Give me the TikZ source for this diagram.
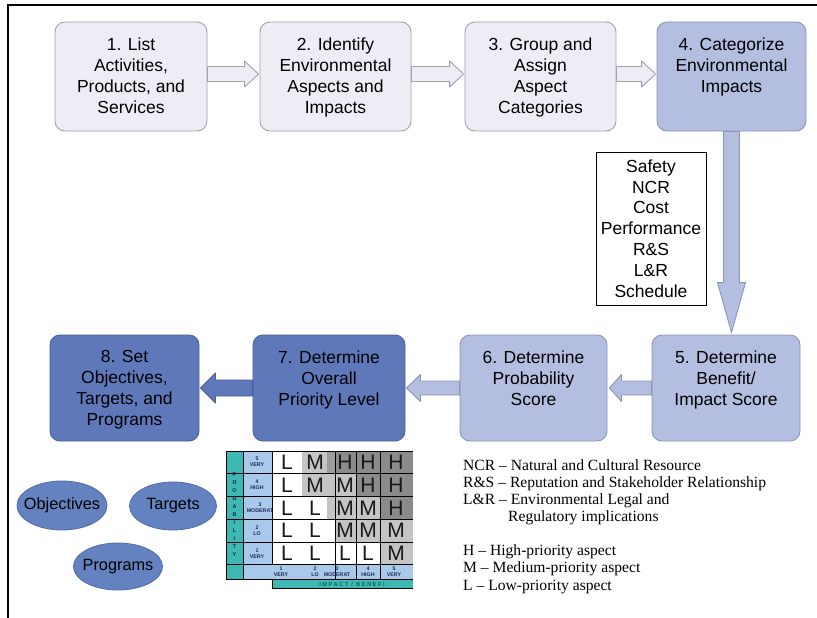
\documentclass[tikz,border=0pt]{standalone}
\usepackage{fontspec}
\setmainfont{Liberation Serif}
\setsansfont{Liberation Sans}
\newfontfamily\spacedsans[LetterSpace=25]{Liberation Sans}
\usetikzlibrary{shapes.geometric,calc}
\definecolor{lightfill}{HTML}{EEEDF5}
\definecolor{lightdraw}{HTML}{A2A2AA}
\definecolor{midfill}{HTML}{B3BEE1}
\definecolor{middraw}{HTML}{8E96B6}
\definecolor{darkfill}{HTML}{5E78BA}
\definecolor{darkdraw}{HTML}{4A5E99}
\definecolor{ellfill}{HTML}{6482BF}
\definecolor{elldraw}{HTML}{4F6CA8}
\definecolor{tealc}{HTML}{3DB8B2}
\definecolor{lblue}{HTML}{A9C9EA}
\definecolor{hgrey}{HTML}{8B8B8B}
\definecolor{mgrey}{HTML}{C4C4C4}
\definecolor{sgrey}{HTML}{9C9C9C}
\definecolor{navy}{HTML}{1F2A55}
\definecolor{darkteal}{HTML}{14605C}
\tikzset{
  basebox/.style={rounded corners=10pt, line width=0.9pt},
  lbox/.style={basebox, draw=lightdraw, fill=lightfill},
  mbox/.style={basebox, draw=middraw, fill=midfill},
  dbox/.style={basebox, draw=darkdraw, fill=darkfill},
  btext/.style={font=\sffamily\fontsize{17.5}{21}\selectfont, align=center, anchor=north, inner sep=0pt, text=black},
  larrow/.style={draw=lightdraw, fill=lightfill, line width=0.9pt, line join=round},
  marrow/.style={draw=middraw, fill=midfill, line width=0.9pt, line join=round},
  darrow/.style={draw=darkdraw, fill=darkfill, line width=0.9pt, line join=round},
  ell/.style={ellipse, draw=elldraw, fill=ellfill, line width=0.8pt, inner sep=0pt},
  elltext/.style={inner sep=0pt, font=\sffamily\fontsize{16.3}{18}\selectfont},
  legend/.style={anchor=base west, inner sep=0pt, font=\fontsize{15.6}{17}\selectfont},
  mline/.style={draw=black, line width=0.8pt},
  mletter/.style={inner sep=0pt, font=\sffamily\fontsize{21}{21}\selectfont, text=black!90},
  tinylab/.style={inner sep=0pt, align=center, font=\sffamily\bfseries\fontsize{5.3}{6.2}\selectfont, text=navy},
  frameline/.style={draw=black, line width=2pt}
}
\begin{document}
\begin{tikzpicture}[x=1pt,y=-1pt]
\useasboundingbox (0,0) rectangle (817,618);
\fill[white] (0,0) rectangle (817,618);
% frame
\coordinate (f0) at (817,5.5);
\coordinate (f1) at (7.5,5.5);
\coordinate (f2) at (7.5,618);
\draw[frameline] (f0) -- (f1) -- (f2);

% boxes
\node[lbox, minimum width=152pt, minimum height=109pt] (b1) at (131,76.5) {};
\node[lbox, minimum width=151pt, minimum height=109pt] (b2) at (335.5,76.5) {};
\node[lbox, minimum width=151pt, minimum height=109pt] (b3) at (540.5,76.5) {};
\node[mbox, minimum width=149pt, minimum height=109pt] (b4) at (731.5,76.5) {};
\node[mbox, minimum width=148pt, minimum height=106pt] (b5) at (726,388) {};
\node[mbox, minimum width=147pt, minimum height=106pt] (b6) at (533.5,388) {};
\node[dbox, minimum width=152pt, minimum height=106pt] (b7) at (329,388) {};
\node[dbox, minimum width=149pt, minimum height=106pt] (b8) at (124.5,388) {};

\node[btext] (t1) at ($(b1.north)+(0,16)$) {1. List\\Activities,\\Products, and\\Services};
\node[btext] (t2) at ($(b2.north)+(0,16)$) {2. Identify\\Environmental\\Aspects and\\Impacts};
\node[btext] (t3) at ($(b3.north)+(0,16)$) {3. Group and\\Assign\\Aspect\\Categories};
\node[btext] (t4) at ($(b4.north)+(0,16)$) {4. Categorize\\Environmental\\Impacts};
\node[btext] (t5) at ($(b5.north)+(0,16)$) {5. Determine\\Benefit/\\Impact Score};
\node[btext] (t6) at ($(b6.north)+(0,16)$) {6. Determine\\Probability\\Score};
\node[btext] (t7) at ($(b7.north)+(0,16)$) {7. Determine\\Overall\\Priority Level};
\node[btext] (t8) at ($(b8.north)+(0,16)$) {8. Set\\Objectives,\\Targets, and\\Programs};

% right-pointing arrows (top row)
\draw[larrow] let \p1=(b1.east), \p2=(b2.west) in
  (\x1,\y1+10pt) -- (\x2-15pt,\y1+10pt) -- (\x2-15pt,\y1+15.5pt) -- (\x2-1pt,\y1+2.5pt)
  -- (\x2-15pt,\y1-10.5pt) -- (\x2-15pt,\y1-5pt) -- (\x1,\y1-5pt) -- cycle;
\draw[larrow] let \p1=(b2.east), \p2=(b3.west) in
  (\x1,\y1+10pt) -- (\x2-15pt,\y1+10pt) -- (\x2-15pt,\y1+15.5pt) -- (\x2-1pt,\y1+2.5pt)
  -- (\x2-15pt,\y1-10.5pt) -- (\x2-15pt,\y1-5pt) -- (\x1,\y1-5pt) -- cycle;
\draw[larrow] let \p1=(b3.east), \p2=(b4.west) in
  (\x1,\y1+10pt) -- (\x2-15pt,\y1+10pt) -- (\x2-15pt,\y1+15.5pt) -- (\x2-1pt,\y1+2.5pt)
  -- (\x2-15pt,\y1-10.5pt) -- (\x2-15pt,\y1-5pt) -- (\x1,\y1-5pt) -- cycle;

% vertical arrow 4 -> 5
\draw[marrow] let \p1=(b4.south), \p2=(b5.north) in
  (\x1-8pt,\y1) -- (\x1-8pt,\y2+52pt) -- (\x1-14pt,\y2+52pt) -- (\x1,\y2+2pt)
  -- (\x1+14pt,\y2+52pt) -- (\x1+8pt,\y2+52pt) -- (\x1+8pt,\y1) -- cycle;

% left-pointing arrows (bottom row)
\draw[marrow] let \p1=(b5.west), \p2=(b6.east) in
  (\x1,\y1+7pt) -- (\x2+14pt,\y1+7pt) -- (\x2+14pt,\y1+13.5pt) -- (\x2+2pt,\y1)
  -- (\x2+14pt,\y1-13.5pt) -- (\x2+14pt,\y1-7pt) -- (\x1,\y1-7pt) -- cycle;
\draw[marrow] let \p1=(b6.west), \p2=(b7.east) in
  (\x1,\y1+7pt) -- (\x2+15pt,\y1+7pt) -- (\x2+15pt,\y1+13.5pt) -- (\x2+1pt,\y1)
  -- (\x2+15pt,\y1-13.5pt) -- (\x2+15pt,\y1-7pt) -- (\x1,\y1-7pt) -- cycle;
\draw[darrow] let \p1=(b7.west), \p2=(b8.east) in
  (\x1,\y1+8pt) -- (\x2+16pt,\y1+8pt) -- (\x2+16pt,\y1+15pt) -- (\x2+1pt,\y1)
  -- (\x2+16pt,\y1-15pt) -- (\x2+16pt,\y1-8pt) -- (\x1,\y1-8pt) -- cycle;

% categories box
\node[draw=black, line width=0.8pt, fill=white, minimum width=110pt, minimum height=153pt,
      align=center, inner sep=0pt, font=\sffamily\fontsize{17.5}{20.8}\selectfont] (cat) at (651,228.5)
  {Safety\\NCR\\Cost\\Performance\\R\&S\\L\&R\\Schedule};

% ellipses
\node[ell, minimum width=90pt, minimum height=49pt] (obj) at (62,505.5) {};
\node[ell, minimum width=87pt, minimum height=48pt] (tar) at (173,506) {};
\node[ell, minimum width=89pt, minimum height=47pt] (pro) at (118,566.5) {};
\node[elltext] (objt) at (obj.center) {Objectives};
\node[elltext] (tart) at (tar.center) {Targets};
\node[elltext] (prot) at (pro.center) {Programs};

% risk matrix
\fill[lblue] (243,451) rectangle (272,564.5);
\fill[lblue] (243,564.5) rectangle (413,579.5);
\fill[tealc] (226,451) rectangle (243,579.5);
\fill[tealc] (272,579.5) rectangle (413,588);
\fill[white] (272,451) rectangle (413,564.5);
\fill[mgrey] (302,451) rectangle (327,473.5);
\fill[sgrey] (327,451) rectangle (335,473.5);
\fill[hgrey] (335,451) rectangle (413,473.5);
\fill[mgrey] (302,473.5) rectangle (356,496.5);
\fill[hgrey] (356,473.5) rectangle (413,496.5);
\fill[mgrey] (327,496.5) rectangle (380,519);
\fill[hgrey] (380,496.5) rectangle (413,519);
\fill[mgrey] (335,519) rectangle (413,542);
\fill[mgrey] (380,542) rectangle (413,564.5);
\foreach \yy in {451,473.5,496.5,519,542,564.5,579.5} {\draw[mline] (226,\yy) -- (413,\yy);}
\foreach \xx in {226,243,335,356,380} {\draw[mline] (\xx,451) -- (\xx,579.5);}
\draw[mline] (272,451) -- (272,564.5);
\draw[mline] (272,579.5) -- (272,588) -- (413,588);

\foreach \ltr [count=\c] in {L,M,H,H,H} {\node[mletter] (ma\c) at ({\c==1?287:(\c==2?315:(\c==3?345:(\c==4?368:396)))},462) {\ltr};}
\foreach \ltr [count=\c] in {L,M,M,H,H} {\node[mletter] (mb\c) at ({\c==1?287:(\c==2?315:(\c==3?345:(\c==4?368:396)))},485) {\ltr};}
\foreach \ltr [count=\c] in {L,L,M,M,H} {\node[mletter] (mc\c) at ({\c==1?287:(\c==2?315:(\c==3?345:(\c==4?368:396)))},507.8) {\ltr};}
\foreach \ltr [count=\c] in {L,L,M,M,M} {\node[mletter] (md\c) at ({\c==1?287:(\c==2?315:(\c==3?345:(\c==4?368:396)))},530.5) {\ltr};}
\foreach \ltr [count=\c] in {L,L,L,L,M} {\node[mletter] (me\c) at ({\c==1?287:(\c==2?315:(\c==3?345:(\c==4?368:396)))},553.3) {\ltr};}

\node[tinylab] (rl5) at (257,462) {5\\VERY};
\node[tinylab] (rl4) at (257,485) {4\\HIGH};
\node[tinylab] (rl3) at (260,507.8) {3\\MODERAT};
\node[tinylab] (rl2) at (257,530.5) {2\\LO};
\node[tinylab] (rl1) at (257,553.3) {1\\VERY};
\node[tinylab] (cl1) at (281,572) {1\\VERY};
\node[tinylab] (cl2) at (315,572) {2\\LO};
\node[tinylab] (cl3) at (337,572) {3\\MODERAT};
\node[tinylab] (cl4) at (368,572) {4\\HIGH};
\node[tinylab] (cl5) at (394,572) {5\\VERY};
\node[tinylab, font=\sffamily\bfseries\fontsize{5.5}{8}\selectfont] (prob) at (234.5,515) {P\\R\\O\\B\\A\\B\\I\\L\\I\\T\\Y};
\node[inner sep=0pt, font=\spacedsans\bfseries\fontsize{5.8}{6}\selectfont, text=darkteal] (imp) at (352,584) {IMPACT / BENEFI};

% legend
\node[legend] (lg1) at (463,470) {NCR -- Natural and Cultural Resource};
\node[legend] (lg2) at (463,487.3) {R\&S -- Reputation and Stakeholder Relationship};
\node[legend] (lg3) at (463,504.6) {L\&R -- Environmental Legal and};
\node[legend] (lg4) at (508,521.9) {Regulatory implications};
\node[legend] (lg5) at (463,555.5) {H -- High-priority aspect};
\node[legend] (lg6) at (463,572.8) {M -- Medium-priority aspect};
\node[legend] (lg7) at (463,590.1) {L -- Low-priority aspect};
\end{tikzpicture}
\end{document}
